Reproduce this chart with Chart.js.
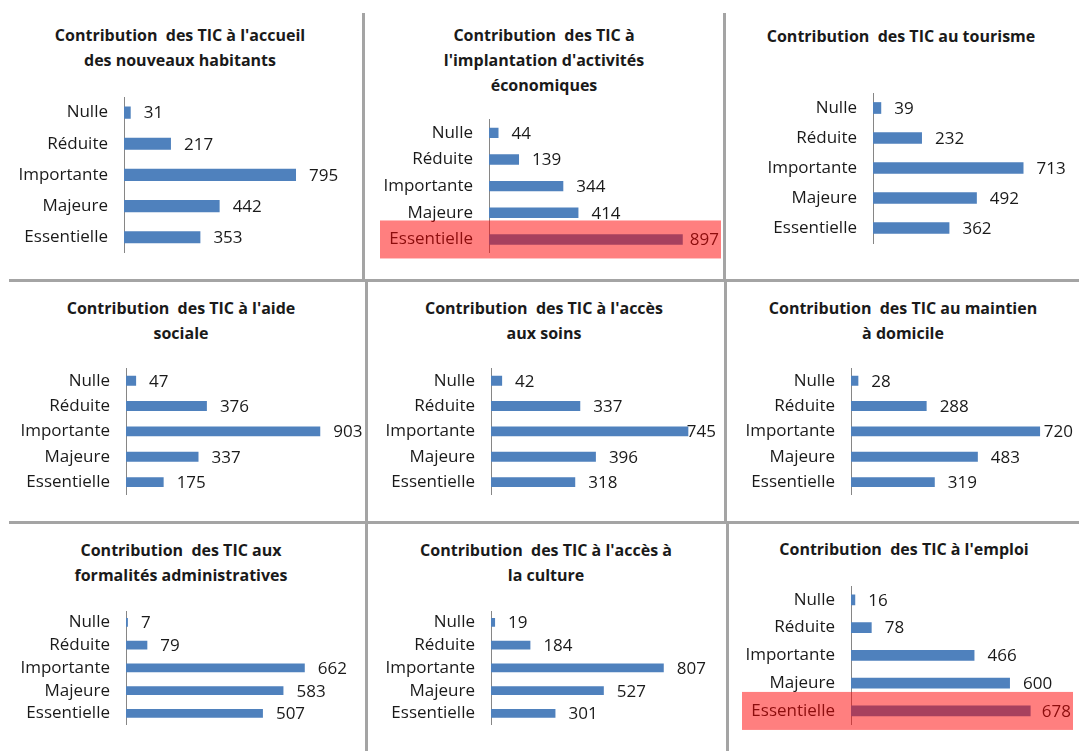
<!DOCTYPE html>
<html>
<head>
<meta charset="utf-8">
<script src="https://cdn.jsdelivr.net/npm/chart.js@4.4.0/dist/chart.umd.min.js"></script>
<style>
  body { margin: 0; background: #fff; }
  #page { position: relative; width: 1079px; height: 751px; overflow: hidden; }
  canvas { position: absolute; }
  .title { position: absolute; transform: translateX(-50%); text-align: center; white-space: pre;
           font: bold 16px "Open Sans", sans-serif; line-height: 25px; color: #1a1a1a; }
  .sep { position: absolute; background: #a4a4a4; }
</style>
</head>
<body>
<div id="page"></div>
<script>
// data
const categories = ["Nulle", "Réduite", "Importante", "Majeure", "Essentielle"];

const accueilValues      = [31, 217, 795, 442, 353];
const implantationValues = [44, 139, 344, 414, 897];
const tourismeValues     = [39, 232, 713, 492, 362];
const aideSocialeValues  = [47, 376, 903, 337, 175];
const soinsValues        = [42, 337, 745, 396, 318];
const maintienValues     = [28, 288, 720, 483, 319];
const formalitesValues   = [7, 79, 662, 583, 507];
const cultureValues      = [19, 184, 807, 527, 301];
const emploiValues       = [16, 78, 466, 600, 678];

const accueilTitle      = ["Contribution  des TIC à l'accueil", "des nouveaux habitants"];
const implantationTitle = ["Contribution  des TIC à", "l'implantation d'activités", "économiques"];
const tourismeTitle     = ["Contribution  des TIC au tourisme"];
const aideSocialeTitle  = ["Contribution  des TIC à l'aide", "sociale"];
const soinsTitle        = ["Contribution  des TIC à l'accès", "aux soins"];
const maintienTitle     = ["Contribution  des TIC au maintien", "à domicile"];
const formalitesTitle   = ["Contribution  des TIC aux", "formalités administratives"];
const cultureTitle      = ["Contribution  des TIC à l'accès à", "la culture"];
const emploiTitle       = ["Contribution  des TIC à l'emploi"];

// panel layout: canvas box, axis position, plot box, title position
const panels = [
  { values: accueilValues,      title: accueilTitle,      x: 0,   y: 0,   w: 362, h: 279, axisX: 124, plotR: 362,  top: 97,    bottom: 256, xMax: 1100, tx: 180, ty: 35 },
  { values: implantationValues, title: implantationTitle, x: 366, y: 0,   w: 357, h: 279, axisX: 489, plotR: 721,  top: 119.5, bottom: 256, xMax: 1074, tx: 544, ty: 35, highlight: true },
  { values: tourismeValues,     title: tourismeTitle,     x: 726, y: 0,   w: 353, h: 279, axisX: 873, plotR: 1075, top: 93,    bottom: 243, xMax: 957,  tx: 901, ty: 36 },
  { values: aideSocialeValues,  title: aideSocialeTitle,  x: 0,   y: 282, w: 365, h: 239, axisX: 126, plotR: 365,  top: 368,   bottom: 498, xMax: 1111, tx: 181, ty: 308 },
  { values: soinsValues,        title: soinsTitle,        x: 368, y: 282, w: 356, h: 239, axisX: 491, plotR: 718,  top: 368,   bottom: 498, xMax: 857,  tx: 544, ty: 308 },
  { values: maintienValues,     title: maintienTitle,     x: 727, y: 282, w: 352, h: 239, axisX: 851, plotR: 1075, top: 368,   bottom: 498, xMax: 853,  tx: 903, ty: 308 },
  { values: formalitesValues,   title: formalitesTitle,   x: 0,   y: 524, w: 365, h: 227, axisX: 126, plotR: 365,  top: 611,   bottom: 739, xMax: 885,  tx: 181, ty: 550 },
  { values: cultureValues,      title: cultureTitle,      x: 368, y: 524, w: 358, h: 227, axisX: 491, plotR: 722,  top: 611,   bottom: 739, xMax: 1079, tx: 546, ty: 550 },
  { values: emploiValues,       title: emploiTitle,       x: 729, y: 524, w: 350, h: 227, axisX: 851, plotR: 1073, top: 586,   bottom: 740, xMax: 838,  tx: 904, ty: 549, highlight: true }
];

const seps = [
  [362, 13, 3, 268], [723, 13, 3, 268], [9, 279, 1070, 3],
  [365, 281, 3, 242], [724, 281, 3, 242], [9, 521, 1070, 3],
  [365, 523, 3, 228], [726, 523, 3, 228]
];

const labelFont = { family: "'Open Sans', sans-serif", size: 17 };
const page = document.getElementById("page");

const valueLabels = {
  id: "valueLabels",
  afterDatasetsDraw(chart) {
    const ctx = chart.ctx;
    const meta = chart.getDatasetMeta(0);
    ctx.save();
    ctx.font = labelFont.size + "px " + labelFont.family;
    ctx.fillStyle = "#1a1a1a";
    ctx.textBaseline = "middle";
    meta.data.forEach((bar, i) => {
      const txt = String(chart.data.datasets[0].data[i]);
      const w = ctx.measureText(txt).width;
      let x = bar.x + 13;
      if (x + w > chart.chartArea.right - 2) x = chart.chartArea.right - 2 - w;
      ctx.fillText(txt, x, bar.y + 1);
    });
    ctx.restore();
  }
};

function highlightPlugin(enabled) {
  return {
    id: "highlight",
    afterDraw(chart) {
      if (!enabled) return;
      const cy = chart.scales.y.getPixelForValue(categories.length - 1);
      const ctx = chart.ctx;
      ctx.save();
      ctx.fillStyle = "rgba(255, 0, 0, 0.5)";
      ctx.fillRect(chart.chartArea.left - 109, cy - 19, chart.chartArea.right - chart.chartArea.left + 109, 38);
      ctx.restore();
    }
  };
}

panels.forEach(p => {
  const t = document.createElement("div");
  t.className = "title";
  t.style.left = p.tx + "px";
  t.style.top = (p.ty - 12.5) + "px";
  t.textContent = p.title.join("\n");
  page.appendChild(t);

  const c = document.createElement("canvas");
  c.width = p.w; c.height = p.h;
  c.style.left = p.x + "px"; c.style.top = p.y + "px";
  page.appendChild(c);

  new Chart(c, {
    type: "bar",
    data: {
      labels: categories,
      datasets: [{
        data: p.values,
        backgroundColor: "#4f81bd",
        barPercentage: 0.39,
        categoryPercentage: 1
      }]
    },
    options: {
      indexAxis: "y",
      responsive: false,
      animation: false,
      layout: {
        padding: { left: 0, right: p.x + p.w - p.plotR, top: p.top - p.y, bottom: p.y + p.h - p.bottom }
      },
      plugins: { legend: { display: false }, tooltip: { enabled: false } },
      scales: {
        x: { display: false, min: 0, max: p.xMax },
        y: {
          grid: { display: false, drawTicks: false },
          border: { display: true, color: "#868686", width: 1 },
          ticks: { padding: 16, color: "#1a1a1a", font: labelFont },
          afterFit(scale) { scale.width = p.axisX - p.x; }
        }
      }
    },
    plugins: [valueLabels, highlightPlugin(p.highlight)]
  });
});

seps.forEach(s => {
  const d = document.createElement("div");
  d.className = "sep";
  d.style.left = s[0] + "px"; d.style.top = s[1] + "px";
  d.style.width = s[2] + "px"; d.style.height = s[3] + "px";
  page.appendChild(d);
});
</script>
</body>
</html>
